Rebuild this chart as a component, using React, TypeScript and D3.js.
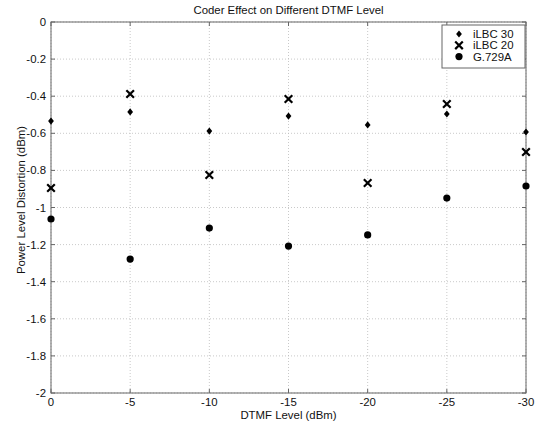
import React from "react";
import * as d3 from "d3";

const levels = [0, -5, -10, -15, -20, -25, -30];
const ilbc30 = [-0.534, -0.485, -0.588, -0.507, -0.555, -0.496, -0.593];
const ilbc20 = [-0.895, -0.388, -0.825, -0.415, -0.868, -0.442, -0.701];
const g729a = [-1.062, -1.278, -1.111, -1.208, -1.148, -0.949, -0.884];
const xTicks = [0, -5, -10, -15, -20, -25, -30];
const yTicks = [0, -0.2, -0.4, -0.6, -0.8, -1, -1.2, -1.4, -1.6, -1.8, -2];
const seriesNames = ["iLBC 30", "iLBC 20", "G.729A"];

const W = 539, H = 430;
const L = 51, R = 526, T = 22, B = 393;

function Marker({ kind, x, y }: { kind: number; x: number; y: number }) {
  if (kind === 0) {
    const s = 3.6;
    return <path d={`M${x},${y - s}L${x + s * 0.8},${y}L${x},${y + s}L${x - s * 0.8},${y}Z`} fill="#000" />;
  }
  if (kind === 1) {
    const s = 3.8;
    return (
      <path d={`M${x - s},${y - s}L${x + s},${y + s}M${x - s},${y + s}L${x + s},${y - s}`} stroke="#000" strokeWidth={2.2} />
    );
  }
  return <circle cx={x} cy={y} r={3.6} fill="#000" />;
}

export default function App() {
  const x = d3.scaleLinear().domain([0, -30]).range([L, R]);
  const y = d3.scaleLinear().domain([0, -2]).range([T, B]);
  const font = "'Liberation Sans', Arial, sans-serif";
  const all = [ilbc30, ilbc20, g729a];
  const fs = 11.4;
  return (
    <svg width={W} height={H} style={{ position: "absolute", left: 0, top: 0, background: "#fff" }} fontFamily={font}>
      <rect x={0} y={0} width={W} height={H} fill="#fff" />
      {xTicks.map((t) => (
        <line key={"gx" + t} x1={x(t)} x2={x(t)} y1={T} y2={B} stroke="#bbb" strokeWidth={0.8} strokeDasharray="1,2" />
      ))}
      {yTicks.map((t) => (
        <line key={"gy" + t} x1={L} x2={R} y1={y(t)} y2={y(t)} stroke="#bbb" strokeWidth={0.8} strokeDasharray="1,2" />
      ))}
      <rect x={L} y={T} width={R - L} height={B - T} fill="none" stroke="#666" strokeWidth={1} />
      {xTicks.map((t) => (
        <g key={"tx" + t}>
          <line x1={x(t)} x2={x(t)} y1={B} y2={B - 4} stroke="#666" />
          <line x1={x(t)} x2={x(t)} y1={T} y2={T + 4} stroke="#666" />
          <text x={x(t)} y={406} fontSize={fs} textAnchor="middle" fill="#111">{t}</text>
        </g>
      ))}
      {yTicks.map((t) => (
        <g key={"ty" + t}>
          <line x1={L} x2={L + 4} y1={y(t)} y2={y(t)} stroke="#666" />
          <line x1={R} x2={R - 4} y1={y(t)} y2={y(t)} stroke="#666" />
          <text x={46} y={y(t) + 4} fontSize={fs} textAnchor="end" fill="#111">{t}</text>
        </g>
      ))}
      <text x={(L + R) / 2} y={14} fontSize={fs} textAnchor="middle" fill="#111">Coder Effect on Different DTMF Level</text>
      <text x={(L + R) / 2} y={419} fontSize={fs} textAnchor="middle" fill="#111">DTMF Level (dBm)</text>
      <text transform={`translate(25,200) rotate(-90)`} fontSize={fs} textAnchor="middle" fill="#111">Power Level Distortion (dBm)</text>
      {all.map((vals, si) =>
        vals.map((v, i) => <Marker key={si + "-" + i} kind={si} x={x(levels[i])} y={y(v)} />)
      )}
      <rect x={442} y={25} width={83} height={43} fill="#fff" stroke="#666" strokeWidth={1} />
      {seriesNames.map((n, i) => (
        <g key={n}>
          <Marker kind={i} x={459} y={34 + i * 11.3} />
          <text x={473} y={38 + i * 11.3} fontSize={fs} fill="#111">{n}</text>
        </g>
      ))}
    </svg>
  );
}
